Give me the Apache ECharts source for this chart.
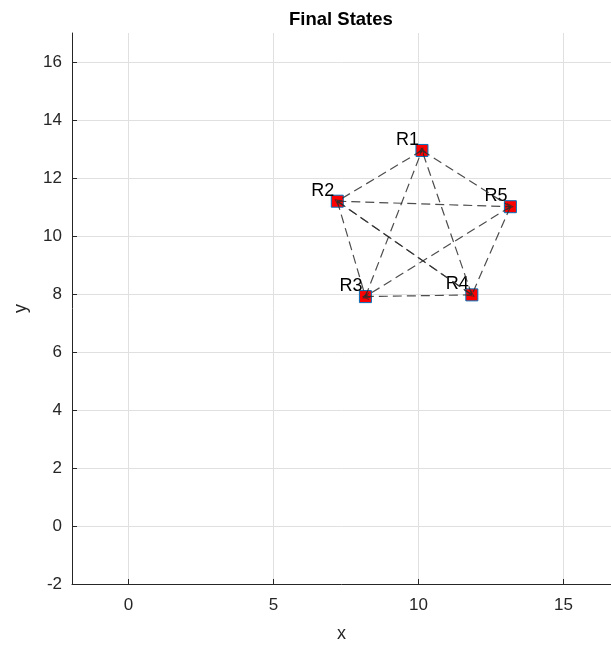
<!DOCTYPE html>
<html>
<head>
<meta charset="utf-8">
<script src="https://cdn.jsdelivr.net/npm/echarts@6/dist/echarts.min.js"></script>
<style>
  html, body { margin: 0; padding: 0; background: #ffffff; }
  #chart { width: 611px; height: 648px; }
</style>
</head>
<body>
<div id="chart"></div>
<script>
// Final robot positions
const robotNames = ['R1', 'R2', 'R3', 'R4', 'R5'];
const posX = [10.12, 7.20, 8.17, 11.84, 13.17];
const posY = [12.95, 11.20, 7.91, 7.97, 11.01];

// Communication links (index into robot arrays) and whether an arrowhead is drawn at the target
const linkFrom = [0, 2, 3, 0, 1, 3, 1, 1, 3, 4, 4];
const linkTo   = [1, 0, 0, 4, 2, 1, 3, 4, 2, 2, 3];
const linkArrow = [0, 1, 1, 0, 0, 1, 1, 1, 1, 1, 0];

// Axis ticks
const xTicks = [0, 5, 10, 15];
const yTicks = [-2, 0, 2, 4, 6, 8, 10, 12, 14, 16];

const axisColor = '#262626';
const gridColor = '#e0e0e0';
const font = 'Liberation Sans, Arial, Helvetica, sans-serif';
const chevron = 'path://M0,10 L5,0 L10,10 L8.6,10 L5,2.8 L1.4,10 Z';

const robotData = robotNames.map((n, i) => ({ name: n, value: [posX[i], posY[i]] }));
const linkData = linkFrom.map((f, k) => ({
  coords: [[posX[f], posY[f]], [posX[linkTo[k]], posY[linkTo[k]]]],
  symbol: ['none', linkArrow[k] ? chevron : 'none'],
  symbolSize: [0, 7]
}));

const chart = echarts.init(document.getElementById('chart'), null, { renderer: 'canvas' });
chart.setOption({
  animation: false,
  backgroundColor: '#ffffff',
  title: {
    text: 'Final States',
    left: 284,
    top: 5,
    textStyle: { fontFamily: font, fontSize: 18.5, fontWeight: 'bold', color: '#000000' }
  },
  grid: { left: 72, right: 0, top: 33, bottom: 64, containLabel: false },
  xAxis: {
    type: 'value',
    min: -1.95,
    max: 16.64,
    name: 'x',
    nameLocation: 'middle',
    nameGap: 41,
    nameTextStyle: { fontFamily: font, fontSize: 18, color: axisColor },
    axisLine: { show: true, onZero: false, lineStyle: { color: axisColor, width: 1 } },
    axisTick: { show: true, inside: true, length: 5, customValues: xTicks, lineStyle: { color: axisColor } },
    axisLabel: { customValues: xTicks, fontFamily: font, fontSize: 17, color: axisColor, margin: 13 },
    splitLine: { show: true, customValues: xTicks, lineStyle: { color: gridColor, width: 1 } }
  },
  yAxis: {
    type: 'value',
    min: -2,
    max: 17,
    name: 'y',
    nameLocation: 'middle',
    nameGap: 42,
    nameTextStyle: { fontFamily: font, fontSize: 18, color: axisColor },
    axisLine: { show: true, onZero: false, lineStyle: { color: axisColor, width: 1 } },
    axisTick: { show: true, inside: true, length: 5, customValues: yTicks, lineStyle: { color: axisColor } },
    axisLabel: { customValues: yTicks, fontFamily: font, fontSize: 17, color: axisColor, margin: 10 },
    splitLine: { show: true, customValues: yTicks, lineStyle: { color: gridColor, width: 1 } }
  },
  series: [
    {
      type: 'scatter',
      z: 2,
      symbol: 'rect',
      symbolSize: 12,
      itemStyle: { color: '#ff0000', borderColor: '#0072BD', borderWidth: 1, opacity: 1 },
      label: {
        show: true,
        formatter: p => p.name,
        position: [3.5, 5],
        align: 'right',
        verticalAlign: 'bottom',
        fontFamily: font,
        fontSize: 18,
        color: '#000000'
      },
      data: robotData
    },
    {
      type: 'lines',
      coordinateSystem: 'cartesian2d',
      z: 3,
      lineStyle: { color: '#2e2e2e', width: 1.2, type: [9, 5], opacity: 0.85 },
      itemStyle: { color: '#222222' },
      data: linkData
    }
  ]
});
</script>
</body>
</html>
